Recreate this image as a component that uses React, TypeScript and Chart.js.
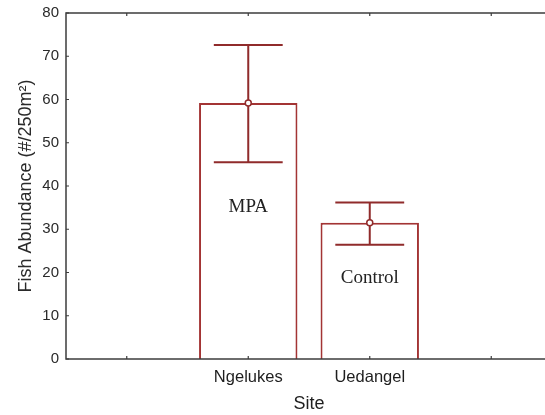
import React, { useEffect, useRef } from "react";
import { Chart, registerables } from "chart.js";

Chart.register(...registerables);

const categories = ["", "Ngelukes", "Uedangel", ""];
const means = [null, 59.2, 31.5, null];
const errLow = [null, 45.5, 26.4, null];
const errHigh = [null, 72.6, 36.2, null];
const annotationText = [null, "MPA", "Control", null];
const annotationY = [null, 35.1, 18.7, null];
const yMin = 0;
const yMax = 80;
const yStep = 10;
const yTitle = "Fish Abundance (#/250m\u00B2)";
const xTitle = "Site";

const BAR_COLOR = "#a33434";
const ERR_COLOR = "#902b2b";
const AXIS_COLOR = "#3c3c3c";
const SANS = "'Liberation Sans', Arial, sans-serif";
const SERIF = "'Liberation Serif', 'Times New Roman', serif";

const decorPlugin = {
  id: "decor",
  afterDatasetsDraw(chart: any) {
    const { ctx, chartArea } = chart;
    const xs = chart.scales.x;
    const ys = chart.scales.y;
    const meta = chart.getDatasetMeta(0);
    ctx.save();
    means.forEach((m, i) => {
      if (m == null) return;
      const el: any = meta.data[i];
      const x = xs.getPixelForValue(i);
      const half = (el && el.width ? el.width : 98) * 0.35;
      const yH = ys.getPixelForValue(errHigh[i] as number);
      const yL = ys.getPixelForValue(errLow[i] as number);
      const yM = ys.getPixelForValue(m);
      ctx.strokeStyle = ERR_COLOR;
      ctx.lineWidth = 2;
      ctx.beginPath();
      ctx.moveTo(x, yH);
      ctx.lineTo(x, yL);
      ctx.moveTo(x - half, yH);
      ctx.lineTo(x + half, yH);
      ctx.moveTo(x - half, yL);
      ctx.lineTo(x + half, yL);
      ctx.stroke();
      ctx.beginPath();
      ctx.arc(x, yM, 3, 0, Math.PI * 2);
      ctx.fillStyle = "#ffffff";
      ctx.fill();
      ctx.lineWidth = 1.5;
      ctx.stroke();
    });
    ctx.fillStyle = "#222";
    ctx.font = `19px ${SERIF}`;
    ctx.textAlign = "center";
    ctx.textBaseline = "middle";
    annotationText.forEach((t, i) => {
      if (!t) return;
      ctx.fillText(t, xs.getPixelForValue(i), ys.getPixelForValue(annotationY[i] as number));
    });
    ctx.strokeStyle = AXIS_COLOR;
    ctx.lineWidth = 1.5;
    ctx.strokeRect(chartArea.left, chartArea.top, chartArea.right - chartArea.left, chartArea.bottom - chartArea.top);
    ctx.lineWidth = 1.2;
    ctx.beginPath();
    for (let v = yMin; v <= yMax; v += yStep) {
      const y = ys.getPixelForValue(v);
      ctx.moveTo(chartArea.left, y);
      ctx.lineTo(chartArea.left + 3, y);
      ctx.moveTo(chartArea.right, y);
      ctx.lineTo(chartArea.right - 3, y);
    }
    categories.forEach((_, i) => {
      const x = xs.getPixelForValue(i);
      ctx.moveTo(x, chartArea.bottom);
      ctx.lineTo(x, chartArea.bottom - 3);
      ctx.moveTo(x, chartArea.top);
      ctx.lineTo(x, chartArea.top + 3);
    });
    ctx.stroke();
    ctx.restore();
  },
};

export default function App() {
  const ref = useRef<HTMLCanvasElement>(null);
  useEffect(() => {
    if (!ref.current) return;
    const chart = new Chart(ref.current, {
      type: "bar",
      data: {
        labels: categories,
        datasets: [
          {
            data: means as any,
            backgroundColor: "#ffffff",
            borderColor: BAR_COLOR,
            borderWidth: 2,
            borderSkipped: "start",
            barPercentage: 0.81,
            categoryPercentage: 1,
          },
        ],
      },
      options: {
        responsive: false,
        animation: false,
        devicePixelRatio: 1,
        layout: { padding: { top: 13, right: 8, left: 0, bottom: 0 } },
        plugins: { legend: { display: false }, tooltip: { enabled: false } },
        scales: {
          x: {
            type: "category",
            grid: { display: false, drawTicks: false },
            border: { display: false },
            ticks: {
              color: "#1e1e1e",
              font: { family: SANS, size: 16.5 },
              padding: 9,
              maxRotation: 0,
              autoSkip: false,
            },
            title: {
              display: true,
              text: xTitle,
              color: "#1e1e1e",
              font: { family: SANS, size: 18 },
              padding: { top: 2, bottom: 0 },
            },
            afterFit(scale: any) {
              scale.height = 56;
              scale.paddingLeft = 0;
              scale.paddingRight = 0;
            },
          },
          y: {
            min: yMin,
            max: yMax,
            grid: { display: false, drawTicks: false },
            border: { display: false },
            ticks: {
              stepSize: yStep,
              color: "#2a2a2a",
              font: { family: SANS, size: 15 },
              padding: 7,
            },
            title: {
              display: true,
              text: yTitle,
              color: "#2a2a2a",
              font: { family: SANS, size: 18 },
              padding: { top: 15, bottom: 0 },
            },
            afterFit(scale: any) {
              scale.width = 66;
              scale.paddingTop = 0;
              scale.paddingBottom = 0;
            },
          },
        },
      },
      plugins: [decorPlugin],
    });
    return () => chart.destroy();
  }, []);
  return (
    <div
      style={{
        position: "fixed",
        left: 0,
        top: 0,
        width: 545,
        height: 415,
        overflow: "hidden",
        background: "#fff",
      }}
    >
      <canvas ref={ref} width={560} height={415} style={{ display: "block", width: 560, height: 415 }} />
    </div>
  );
}
